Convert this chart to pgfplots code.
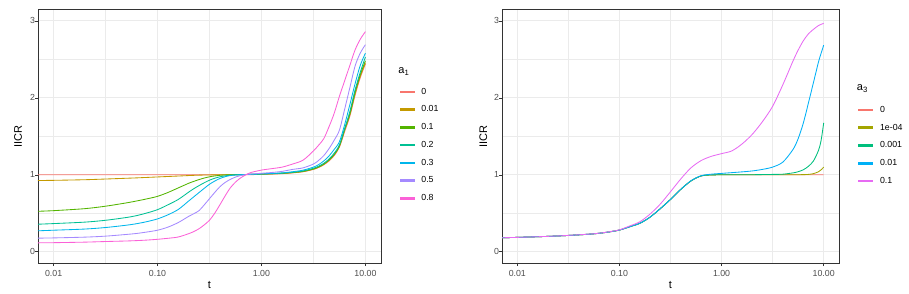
\documentclass[border=0pt]{standalone}
\usepackage{fontspec}
\setmainfont{Liberation Sans}
\usepackage{pgfplots}
\usepackage{pgfplotstable}
\pgfplotsset{compat=1.18}
\definecolor{h7a}{HTML}{F8766D}
\definecolor{h7b}{HTML}{C49A00}
\definecolor{h7c}{HTML}{53B400}
\definecolor{h7d}{HTML}{00C094}
\definecolor{h7e}{HTML}{00B6EB}
\definecolor{h7f}{HTML}{A58AFF}
\definecolor{h7g}{HTML}{FB61D7}
\definecolor{h5a}{HTML}{F8766D}
\definecolor{h5b}{HTML}{A3A500}
\definecolor{h5c}{HTML}{00BF7D}
\definecolor{h5d}{HTML}{00B0F6}
\definecolor{h5e}{HTML}{E76BF3}
\definecolor{grey92}{HTML}{EBEBEB}
\definecolor{grey20}{HTML}{333333}
\definecolor{grey30}{HTML}{4D4D4D}

\pgfplotstableread{
t        a0    a001  a01   a02   a03   a05   a08
0.007079 1.000 0.926 0.526 0.358 0.272 0.177 0.116
0.01     1.000 0.928 0.534 0.366 0.280 0.180 0.118
0.019953 1.000 0.936 0.560 0.385 0.295 0.190 0.125
0.031623 1.000 0.945 0.592 0.409 0.315 0.203 0.133
0.050119 1.000 0.955 0.635 0.445 0.345 0.225 0.140
0.063096 1.000 0.960 0.660 0.470 0.365 0.238 0.145
0.079433 1.000 0.966 0.688 0.505 0.392 0.257 0.152
0.1      1.000 0.972 0.720 0.547 0.427 0.280 0.162
0.125893 1.000 0.978 0.770 0.610 0.480 0.320 0.175
0.158489 1.000 0.984 0.830 0.680 0.550 0.380 0.192
0.199526 1.000 0.990 0.890 0.775 0.660 0.460 0.235
0.223872 1.000 0.993 0.915 0.820 0.715 0.495 0.263
0.251189 1.000 0.995 0.938 0.860 0.770 0.535 0.300
0.281838 1.000 0.997 0.958 0.897 0.825 0.610 0.350
0.316228 1.000 0.998 0.974 0.930 0.877 0.690 0.410
0.354813 1.000 0.999 0.985 0.955 0.918 0.770 0.500
0.398107 1.000 1.000 0.993 0.974 0.952 0.845 0.610
0.446684 1.000 1.000 0.998 0.986 0.975 0.900 0.725
0.501187 1.000 1.000 1.000 0.995 0.990 0.940 0.830
0.562341 1.000 1.001 1.002 1.000 0.997 0.970 0.905
0.630957 1.000 1.002 1.003 1.002 1.000 0.990 0.960
0.707946 1.001 1.003 1.004 1.004 1.004 1.002 1.000
0.794328 1.002 1.005 1.006 1.006 1.006 1.010 1.030
1        1.005 1.008 1.010 1.010 1.012 1.020 1.061
1.258925 1.010 1.012 1.014 1.015 1.018 1.030 1.080
1.584893 1.015 1.017 1.020 1.022 1.025 1.045 1.100
1.995262 1.025 1.027 1.030 1.033 1.040 1.070 1.140
2.511886 1.040 1.042 1.045 1.050 1.060 1.090 1.190
3.162278 1.070 1.073 1.076 1.085 1.100 1.140 1.310
3.548134 1.095 1.099 1.103 1.112 1.132 1.187 1.385
3.981072 1.130 1.135 1.140 1.150 1.180 1.250 1.470
4.466836 1.180 1.188 1.193 1.205 1.245 1.340 1.625
5.011872 1.250 1.260 1.265 1.280 1.330 1.450 1.800
5.623413 1.360 1.370 1.375 1.390 1.430 1.580 2.020
6.309573 1.560 1.580 1.590 1.600 1.650 1.850 2.220
7.079458 1.760 1.780 1.790 1.820 1.910 2.130 2.420
7.943282 2.030 2.050 2.070 2.100 2.180 2.410 2.620
8.912509 2.260 2.280 2.300 2.330 2.420 2.580 2.760
10       2.440 2.455 2.480 2.530 2.580 2.690 2.860
}\lefttab

\pgfplotstableread{
t        b0    b1e4  b0001 b001  b01
0.007079 0.182 0.182 0.182 0.182 0.182
0.01     0.187 0.187 0.187 0.187 0.187
0.019953 0.200 0.200 0.200 0.200 0.200
0.031623 0.212 0.212 0.212 0.212 0.213
0.050119 0.228 0.228 0.228 0.228 0.229
0.063096 0.240 0.240 0.240 0.240 0.241
0.079433 0.258 0.258 0.258 0.258 0.260
0.1      0.282 0.282 0.282 0.282 0.285
0.125893 0.325 0.325 0.325 0.325 0.335
0.158489 0.370 0.370 0.370 0.370 0.390
0.199526 0.450 0.450 0.450 0.450 0.490
0.251189 0.560 0.560 0.560 0.560 0.620
0.316228 0.680 0.680 0.680 0.680 0.780
0.398107 0.810 0.810 0.810 0.810 0.945
0.501187 0.920 0.920 0.920 0.922 1.090
0.630957 0.985 0.985 0.985 0.988 1.185
0.794328 0.998 0.998 0.998 1.008 1.240
1        1.000 1.000 1.000 1.018 1.275
1.258925 1.000 1.000 1.000 1.028 1.310
1.584893 1.000 1.000 1.000 1.038 1.400
1.995262 1.000 1.000 1.001 1.050 1.525
2.511886 1.000 1.000 1.003 1.070 1.690
3.162278 1.000 1.000 1.005 1.100 1.890
3.981072 1.000 1.000 1.008 1.165 2.170
5.011872 1.000 1.000 1.025 1.330 2.480
5.623413 1.000 1.001 1.040 1.470 2.620
6.309573 1.000 1.002 1.065 1.670 2.740
7.079458 1.000 1.005 1.110 1.930 2.830
7.943282 1.000 1.015 1.180 2.200 2.890
8.912509 1.000 1.040 1.320 2.470 2.940
9.440609 1.000 1.065 1.450 2.580 2.955
10       1.000 1.100 1.675 2.684 2.966
}\righttab

\pgfplotsset{
  every axis/.append style={
    scale only axis,
    xmin=0.0070795, xmax=14.125, ymin=-0.15, ymax=3.15,
    xtick={0.01,0.1,1,10}, xticklabels={0.01,0.10,1.00,10.00},
    minor xtick={0.0316228,0.316228,3.162278},
    ytick={0,1,2,3}, yticklabels={0,1,2,3},
    minor ytick={0.5,1.5,2.5},
    grid=both,
    major grid style={color=grey92, line width=1.07pt},
    minor grid style={color=grey92, line width=0.53pt},
    tick align=outside, xtick pos=left, ytick pos=left,
    major tick length=2.75pt, minor tick length=0pt,
    tick style={color=grey20, line width=0.53pt},
    axis line style={color=grey20, line width=0.53pt},
    tick label style={font=\fontsize{8.8}{10}\selectfont, text=grey30, inner sep=0pt},
    xticklabel style={text height=6.3pt, text depth=0pt},
    xticklabel shift=4pt,
    every axis label/.append style={font=\fontsize{11}{13}\selectfont},
    xlabel={t}, ylabel={IICR},
    legend style={draw=none, fill=none, inner sep=0pt, anchor=north west,
      font=\fontsize{8.8}{10}\selectfont, row sep=6.1pt, column sep=5pt},
    legend cell align=left,
  },
  cv/.style={color=#1, line width=0.85pt, smooth, tension=0.5, mark=none,
    legend image code/.code={\fill[##1] (0pt,-0.8pt) rectangle (14pt,0.8pt);}},
}

\begin{document}
\begin{tikzpicture}
\useasboundingbox (0,0) rectangle (909pt,293pt);
\begin{semilogxaxis}[at={(38pt,29.7pt)}, anchor=south west, width=343pt, height=254pt,
  xlabel style={at={(axis description cs:0.5,-0.0854)}, anchor=center},
  ylabel style={at={(axis description cs:-0.0583,0.5)}, anchor=center},
  legend style={at={(1.0534,0.699)}},
  after end axis/.code={\node[anchor=base west, inner sep=0pt, font=\fontsize{11}{13}\selectfont] at (axis description cs:1.0504,0.7472) {a\textsubscript{1}};}]
\addplot[cv=h7a] table[x=t,y=a0] {\lefttab};
\addlegendentry{0}
\addplot[cv=h7b] table[x=t,y=a001] {\lefttab};
\addlegendentry{0.01}
\addplot[cv=h7c] table[x=t,y=a01] {\lefttab};
\addlegendentry{0.1}
\addplot[cv=h7d] table[x=t,y=a02] {\lefttab};
\addlegendentry{0.2}
\addplot[cv=h7e] table[x=t,y=a03] {\lefttab};
\addlegendentry{0.3}
\addplot[cv=h7f] table[x=t,y=a05] {\lefttab};
\addlegendentry{0.5}
\addplot[cv=h7g] table[x=t,y=a08] {\lefttab};
\addlegendentry{0.8}
\end{semilogxaxis}
\begin{semilogxaxis}[at={(502pt,29.7pt)}, anchor=south west, width=337pt, height=254pt,
  xlabel style={at={(axis description cs:0.5,-0.0854)}, anchor=center},
  ylabel style={at={(axis description cs:-0.0555,0.5)}, anchor=center},
  legend style={at={(1.0564,0.6274)}},
  after end axis/.code={\node[anchor=base west, inner sep=0pt, font=\fontsize{11}{13}\selectfont] at (axis description cs:1.0525,0.6795) {a\textsubscript{3}};}]
\addplot[cv=h5a] table[x=t,y=b0] {\righttab};
\addlegendentry{0}
\addplot[cv=h5b] table[x=t,y=b1e4] {\righttab};
\addlegendentry{1e-04}
\addplot[cv=h5c] table[x=t,y=b0001] {\righttab};
\addlegendentry{0.001}
\addplot[cv=h5d] table[x=t,y=b001] {\righttab};
\addlegendentry{0.01}
\addplot[cv=h5e] table[x=t,y=b01] {\righttab};
\addlegendentry{0.1}
\end{semilogxaxis}
\end{tikzpicture}
\end{document}
